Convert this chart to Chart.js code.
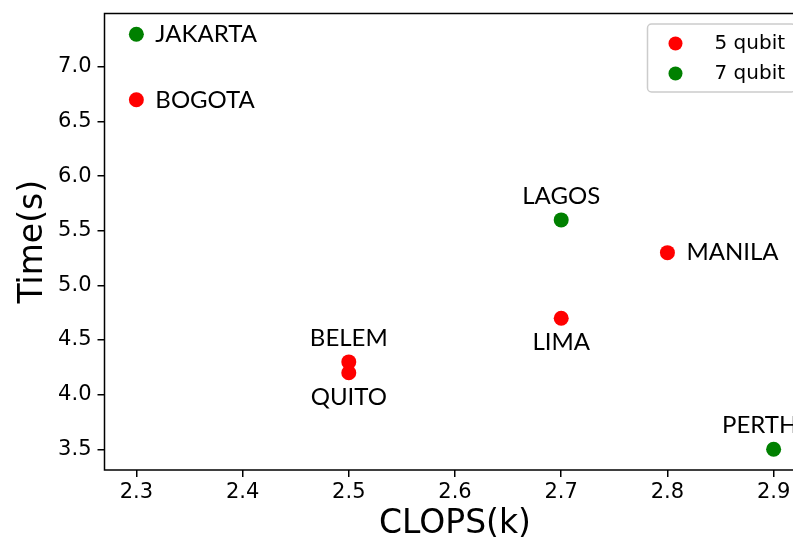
<!DOCTYPE html>
<html>
<head>
<meta charset="utf-8">
<script src="https://cdn.jsdelivr.net/npm/chart.js@4"></script>
<style>
  html, body { margin: 0; padding: 0; background: #fff; overflow: hidden; }
  #wrap { width: 830px; height: 542px; }
</style>
</head>
<body>
<div id="wrap"><canvas id="scatter" width="830" height="542"></canvas></div>
<script>
// devices per qubit count
const names5 = ["BOGOTA", "BELEM", "QUITO", "LIMA", "MANILA"];
const clops5 = [2.3, 2.5, 2.5, 2.7, 2.8];
const time5 = [6.7, 4.3, 4.2, 4.7, 5.3];

const names7 = ["JAKARTA", "LAGOS", "PERTH"];
const clops7 = [2.3, 2.7, 2.9];
const time7 = [7.3, 5.6, 3.5];

const xTicks = [2.3, 2.4, 2.5, 2.6, 2.7, 2.8, 2.9];
const yTicks = [3.5, 4.0, 4.5, 5.0, 5.5, 6.0, 6.5, 7.0];

// where each name sits relative to its dot
const labelSide = {
  BOGOTA: "right", JAKARTA: "right", MANILA: "right",
  BELEM: "above", LAGOS: "above", PERTH: "above",
  QUITO: "below", LIMA: "below"
};
const labelNudge = { PERTH: -14 };

function toPoints(xs, ys, names) {
  return xs.map((x, i) => ({ x: x, y: ys[i], name: names[i] }));
}

const pointLabels = {
  id: "pointLabels",
  afterDatasetsDraw(chart) {
    const ctx = chart.ctx;
    ctx.save();
    ctx.font = "24px Lato";
    ctx.fillStyle = "#000";
    ctx.textBaseline = "middle";
    chart.data.datasets.forEach((ds, di) => {
      chart.getDatasetMeta(di).data.forEach((pt, i) => {
        const name = ds.data[i].name;
        const side = labelSide[name];
        const dx = labelNudge[name] || 0;
        if (side === "right") {
          ctx.textAlign = "left";
          ctx.fillText(name, pt.x + 19 + dx, pt.y);
        } else if (side === "above") {
          ctx.textAlign = "center";
          ctx.fillText(name, pt.x + dx, pt.y - 24);
        } else {
          ctx.textAlign = "center";
          ctx.fillText(name, pt.x + dx, pt.y + 24);
        }
      });
    });
    ctx.restore();
  }
};

const frameAndLegend = {
  id: "frameAndLegend",
  afterDraw(chart) {
    const ctx = chart.ctx;
    const a = chart.chartArea;
    ctx.save();
    ctx.strokeStyle = "#000";
    ctx.lineWidth = 1.5;
    ctx.strokeRect(a.left, a.top, a.right - a.left, a.bottom - a.top);

    // legend box, upper right inside the axes
    const bx = 647.5, by = 24, bw = a.right - 10 - bx, bh = 68;
    ctx.fillStyle = "rgba(255,255,255,0.8)";
    ctx.strokeStyle = "#cccccc";
    ctx.lineWidth = 1.5;
    ctx.beginPath();
    ctx.roundRect(bx, by, bw, bh, 4);
    ctx.fill();
    ctx.stroke();

    ctx.font = "20px 'DejaVu Sans'";
    ctx.textAlign = "left";
    ctx.textBaseline = "middle";
    chart.data.datasets.forEach((ds, i) => {
      const cy = by + 19.5 + i * 30;
      ctx.fillStyle = ds.backgroundColor;
      ctx.beginPath();
      ctx.arc(bx + 28, cy, 7, 0, Math.PI * 2);
      ctx.fill();
      ctx.fillStyle = "#000";
      ctx.fillText(ds.label, bx + 67, cy);
    });
    ctx.restore();
  }
};

new Chart(document.getElementById("scatter"), {
  type: "scatter",
  data: {
    datasets: [
      {
        label: "5 qubit",
        data: toPoints(clops5, time5, names5),
        backgroundColor: "#ff0000",
        borderWidth: 0,
        pointRadius: 7.5,
        pointHoverRadius: 7.5
      },
      {
        label: "7 qubit",
        data: toPoints(clops7, time7, names7),
        backgroundColor: "#008000",
        borderWidth: 0,
        pointRadius: 7.5,
        pointHoverRadius: 7.5
      }
    ]
  },
  options: {
    responsive: false,
    animation: false,
    events: [],
    layout: { padding: { top: 13.5, right: 24.5, left: 0, bottom: 0 } },
    plugins: { legend: { display: false }, tooltip: { enabled: false } },
    scales: {
      x: {
        type: "linear",
        min: 2.27,
        max: 2.93,
        afterBuildTicks: (s) => { s.ticks = xTicks.map(v => ({ value: v })); },
        afterFit: (s) => { s.height = 72; s.paddingLeft = 0; s.paddingRight = 0; },
        border: { display: false },
        grid: { drawOnChartArea: false, drawTicks: true, tickLength: 7, color: "#000", lineWidth: 1.5 },
        ticks: {
          color: "#000",
          font: { family: "DejaVu Sans", size: 21 },
          padding: 3,
          maxRotation: 0,
          callback: (v) => v.toFixed(1)
        },
        title: {
          display: true,
          text: "CLOPS(k)",
          color: "#000",
          font: { family: "DejaVu Sans", size: 33, lineHeight: 1 },
          padding: { top: 0, bottom: 1 }
        }
      },
      y: {
        type: "linear",
        min: 3.31,
        max: 7.49,
        afterBuildTicks: (s) => { s.ticks = yTicks.map(v => ({ value: v })); },
        afterFit: (s) => { s.width = 104.5; s.paddingTop = 0; s.paddingBottom = 0; },
        border: { display: false },
        grid: { drawOnChartArea: false, drawTicks: true, tickLength: 7, color: "#000", lineWidth: 1.5 },
        ticks: {
          color: "#000",
          font: { family: "DejaVu Sans", size: 21 },
          padding: 6,
          callback: (v) => v.toFixed(1)
        },
        title: {
          display: true,
          text: "Time(s)",
          color: "#000",
          font: { family: "DejaVu Sans", size: 33, lineHeight: 1 },
          padding: { top: 17, bottom: 0 }
        }
      }
    }
  },
  plugins: [pointLabels, frameAndLegend]
});
</script>
</body>
</html>
